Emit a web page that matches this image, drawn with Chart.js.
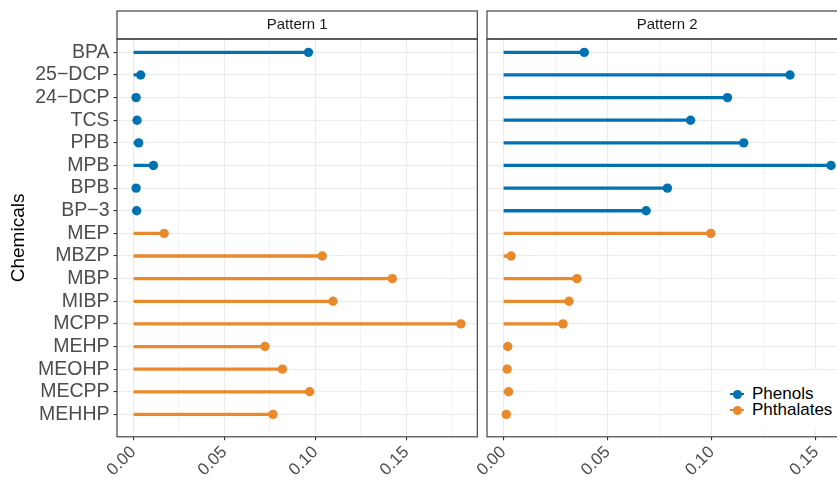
<!DOCTYPE html>
<html>
<head>
<meta charset="utf-8">
<script src="https://cdn.jsdelivr.net/npm/chart.js@4"></script>
<style>
  html, body { margin: 0; padding: 0; background: #fff; overflow: hidden; width: 837px; height: 480px; }
  body { position: relative; font-family: "Liberation Sans", Arial, sans-serif; }
  .panel { position: absolute; top: 0; height: 480px; }
  #p1 { left: 0; width: 482px; }
  #p2 { left: 440px; width: 412px; }
  #legend { position: absolute; left: 722px; top: 370px; width: 130px; height: 60px; background: #fff; }
  .item { position: absolute; left: 30px; font-size: 17px; color: #000; line-height: 16px; white-space: nowrap; }
  .key { position: absolute; left: -22px; top: 3px; width: 14px; height: 10px; }
  .key .seg { position: absolute; left: 0; top: 4px; width: 14px; height: 2px; }
  .key .dot { position: absolute; left: 2.5px; top: 0.5px; width: 9px; height: 9px; border-radius: 50%; }
</style>
</head>
<body>
<div class="panel" id="p1"><canvas id="chart1"></canvas></div>
<div class="panel" id="p2"><canvas id="chart2"></canvas></div>
<div id="legend"></div>
<script>
// chemicals, top to bottom
const chemicals = ['BPA', '25\u2212DCP', '24\u2212DCP', 'TCS', 'PPB', 'MPB', 'BPB', 'BP\u22123',
  'MEP', 'MBZP', 'MBP', 'MIBP', 'MCPP', 'MEHP', 'MEOHP', 'MECPP', 'MEHHP'];
const chemGroup = ['Phenols', 'Phenols', 'Phenols', 'Phenols', 'Phenols', 'Phenols', 'Phenols', 'Phenols',
  'Phthalates', 'Phthalates', 'Phthalates', 'Phthalates', 'Phthalates', 'Phthalates', 'Phthalates', 'Phthalates', 'Phthalates'];

const pattern1 = [0.0962, 0.0040, 0.0015, 0.0020, 0.0029, 0.0110, 0.0015, 0.0018,
  0.0169, 0.1038, 0.1423, 0.1097, 0.1800, 0.0723, 0.0819, 0.0969, 0.0767];
const pattern2 = [0.0388, 0.1375, 0.1075, 0.0898, 0.1153, 0.1572, 0.0787, 0.0685,
  0.0995, 0.0037, 0.0353, 0.0315, 0.0286, 0.0021, 0.0018, 0.0025, 0.0014];

const groupNames = ['Phenols', 'Phthalates'];
const groupColors = ['#0072B2', '#E8892C'];
const xTicks = [0, 0.05, 0.10, 0.15];
const xMinorTicks = [0.025, 0.075, 0.125, 0.175];

const FONT = '"Liberation Sans", Arial, sans-serif';
const colorOf = g => groupColors[groupNames.indexOf(g)];
const pointColors = chemGroup.map(colorOf);
const isMajor = v => xTicks.some(k => Math.abs(k - v) < 1e-6);

// strip + panel border like ggplot theme_bw
const panelFrame = {
  id: 'panelFrame',
  afterDraw(chart) {
    const { ctx, chartArea: a } = chart;
    ctx.save();
    ctx.strokeStyle = '#333333';
    ctx.lineWidth = 1.1;
    ctx.strokeRect(a.left, a.top, a.right - a.left, a.bottom - a.top);
    ctx.strokeRect(a.left, 11, a.right - a.left, a.top - 11);
    ctx.restore();
  }
};

function makePanel(canvasId, title, values, xMin, xMax, showY) {
  const data = values.map((v, i) => ({ x: v, y: i }));
  return new Chart(document.getElementById(canvasId), {
    type: 'bar',
    data: {
      datasets: [
        {
          type: 'line',
          data: data,
          showLine: false,
          pointRadius: 4.7,
          pointHoverRadius: 4.7,
          pointBorderWidth: 0,
          pointBackgroundColor: pointColors,
          order: 0
        },
        {
          type: 'bar',
          data: data,
          backgroundColor: pointColors,
          barThickness: 2.6,
          borderWidth: 0,
          order: 1
        }
      ]
    },
    options: {
      indexAxis: 'y',
      responsive: true,
      maintainAspectRatio: false,
      animation: false,
      layout: { padding: { top: 11, right: 4, bottom: 0, left: 0 } },
      plugins: {
        legend: { display: false },
        tooltip: { enabled: false },
        title: {
          display: true,
          text: title,
          fullSize: false,
          color: '#1a1a1a',
          font: { family: FONT, size: 15, weight: 'normal' },
          padding: { top: 5, bottom: 5 }
        }
      },
      scales: {
        x: {
          type: 'linear',
          min: xMin,
          max: xMax,
          afterBuildTicks: s => {
            s.ticks = xTicks.concat(xMinorTicks)
              .filter(v => v >= xMin && v <= xMax)
              .sort((a, b) => a - b)
              .map(v => ({ value: v }));
          },
          afterFit: s => { s.height = 43.2; },
          border: { display: false },
          grid: {
            color: c => (isMajor(c.tick.value) ? '#ebebeb' : '#f0f0f0'),
            lineWidth: c => (isMajor(c.tick.value) ? 1.1 : 0.8),
            tickColor: c => (isMajor(c.tick.value) ? '#333333' : 'rgba(0,0,0,0)'),
            tickLength: 3.5,
            tickWidth: 1.1
          },
          ticks: {
            autoSkip: false,
            minRotation: 45,
            maxRotation: 45,
            padding: 2,
            color: '#4d4d4d',
            font: { family: FONT, size: 17 },
            callback: v => (isMajor(v) ? v.toFixed(2) : '')
          }
        },
        y: {
          type: 'linear',
          reverse: true,
          offset: false,
          min: -0.59,
          max: chemicals.length - 1 + 0.99,
          afterBuildTicks: s => { s.ticks = chemicals.map((c, i) => ({ value: i })); },
          afterFit: s => { s.width = showY ? 117 : 47; },
          border: { display: false },
          title: {
            display: showY,
            text: 'Chemicals',
            color: '#000',
            font: { family: FONT, size: 19 },
            padding: { top: 7, bottom: 0 }
          },
          grid: {
            offset: false,
            color: '#ebebeb',
            lineWidth: 1.1,
            drawTicks: showY,
            tickColor: '#333333',
            tickLength: 3.5,
            tickWidth: 1.1
          },
          ticks: {
            display: showY,
            autoSkip: false,
            padding: 4,
            color: '#4d4d4d',
            font: { family: FONT, size: 19.5 },
            callback: v => chemicals[Math.round(v)] || ''
          }
        }
      }
    },
    plugins: [panelFrame]
  });
}

makePanel('chart1', 'Pattern 1', pattern1, -0.009, 0.189, true);
makePanel('chart2', 'Pattern 2', pattern2, -0.00786, 0.165, false);

// legend
const legend = document.getElementById('legend');
groupNames.forEach((name, i) => {
  const item = document.createElement('div');
  item.className = 'item';
  item.style.top = (16 + i * 16) + 'px';
  item.innerHTML = '<span class="key"><span class="seg" style="background:' + groupColors[i] + '"></span>' +
    '<span class="dot" style="background:' + groupColors[i] + '"></span></span>' + name;
  legend.appendChild(item);
});
</script>
</body>
</html>
